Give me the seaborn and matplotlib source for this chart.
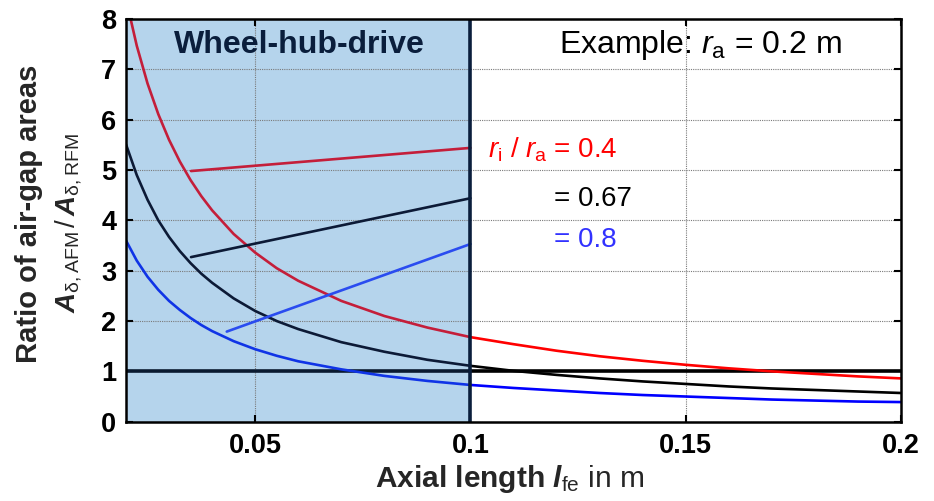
import numpy as np
import pandas as pd
import matplotlib
matplotlib.use("Agg")
import matplotlib.pyplot as plt
import seaborn as sns

# ---- data ----
axial_length = [0.02, 0.0225, 0.025, 0.0275, 0.03, 0.0325, 0.035, 0.0375, 0.04, 0.045,
                0.05, 0.055, 0.06, 0.07, 0.08, 0.09, 0.1, 0.11, 0.12, 0.13, 0.14,
                0.15, 0.16, 0.17, 0.18, 0.19, 0.2]
ratio_04 = [8.4, 7.47, 6.72, 6.11, 5.6, 5.17, 4.8, 4.48, 4.2, 3.73,
            3.36, 3.05, 2.8, 2.4, 2.1, 1.87, 1.68, 1.54, 1.41, 1.3, 1.21,
            1.13, 1.06, 1.0, 0.95, 0.9, 0.86]
ratio_067 = [5.51, 4.9, 4.41, 4.0, 3.67, 3.39, 3.15, 2.94, 2.76, 2.45,
             2.2, 2.0, 1.84, 1.58, 1.39, 1.23, 1.11, 1.01, 0.93, 0.86, 0.8,
             0.75, 0.7, 0.66, 0.63, 0.6, 0.57]
ratio_08 = [3.6, 3.2, 2.88, 2.62, 2.4, 2.22, 2.06, 1.92, 1.8, 1.6,
            1.44, 1.31, 1.2, 1.04, 0.91, 0.81, 0.73, 0.67, 0.62, 0.57, 0.53,
            0.5, 0.47, 0.44, 0.42, 0.4, 0.39]

# pointer lines from the labels to the curves (x0, x1), (y0, y1)
ptr_04_x, ptr_04_y = [0.0351, 0.1], [4.98, 5.44]
ptr_067_x, ptr_067_y = [0.0351, 0.1], [3.27, 4.44]
ptr_08_x, ptr_08_y = [0.0434, 0.1], [1.79, 3.53]

xticks = [0.05, 0.1, 0.15, 0.2]
xtick_labels = ["0.05", "0.1", "0.15", "0.2"]
yticks = [0, 1, 2, 3, 4, 5, 6, 7, 8]
region_x = [0.02, 0.1]
ref_ratio = 1.0

# ---- style ----
sns.set_theme(style="ticks")
plt.rcParams["font.family"] = ["Liberation Sans", "DejaVu Sans"]
plt.rcParams["mathtext.fontset"] = "custom"
plt.rcParams["mathtext.rm"] = "Liberation Sans"
plt.rcParams["mathtext.it"] = "Liberation Sans:italic"
plt.rcParams["mathtext.bf"] = "Liberation Sans:bold"
plt.rcParams["mathtext.bfit"] = "Liberation Sans:italic:bold"

fig = plt.figure(figsize=(9.34, 5.01), dpi=100)
ax = fig.add_axes([0.1349, 0.1583, 0.8298, 0.8037])

ax.axvspan(region_x[0], region_x[1], color="#b5d4ec", zorder=1, lw=0)

df = pd.DataFrame({"x": axial_length, "r04": ratio_04, "r067": ratio_067, "r08": ratio_08})
inside = df[df.x <= region_x[1]]
outside = df[df.x >= region_x[1]]

styles = [("r04", "#c41e3a", "#ff0000"),
          ("r067", "#0c1a36", "#000000"),
          ("r08", "#1034e6", "#0000ff")]
for col, c_in, c_out in styles:
    sns.lineplot(data=inside, x="x", y=col, color=c_in, lw=1.9, ax=ax,
                 estimator=None, sort=False, zorder=4)
    sns.lineplot(data=outside, x="x", y=col, color=c_out, lw=1.9, ax=ax,
                 estimator=None, sort=False, zorder=4)

ax.plot(ptr_04_x, ptr_04_y, color="#c41e3a", lw=1.9, zorder=4)
ax.plot(ptr_067_x, ptr_067_y, color="#0c1a36", lw=1.9, zorder=4)
ax.plot(ptr_08_x, ptr_08_y, color="#2a4cf0", lw=1.9, zorder=4)

# reference line and region border
ax.plot([region_x[0], region_x[1]], [ref_ratio, ref_ratio], color="#0a1a30", lw=2.6, zorder=3)
ax.plot([region_x[1], 0.2], [ref_ratio, ref_ratio], color="#000000", lw=2.6, zorder=3)
ax.axvline(region_x[1], color="#0a1e3c", lw=2.6, zorder=5)

ax.set_xlim(0.02, 0.2)
ax.set_ylim(0, 8)
ax.set_xticks(xticks)
ax.set_xticklabels(xtick_labels)
ax.set_yticks(yticks)
ax.set_xlabel("")
ax.set_ylabel("")

ax.set_axisbelow("line")
ax.grid(True, color="#7a7a7a", ls=(0, (1, 1)), lw=0.8, zorder=2)

for s in ax.spines.values():
    s.set_visible(True)
    s.set_color("black")
    s.set_linewidth(1.8)
    s.set_zorder(6)

ax.tick_params(axis="both", direction="in", length=5, width=1.5,
               top=True, right=True, labelsize=19.5, colors="black")
ax.tick_params(axis="x", pad=8)
ax.tick_params(axis="y", pad=7)
for lab in ax.get_xticklabels() + ax.get_yticklabels():
    lab.set_fontweight("bold")

# texts
ax.text(0.0602, 7.49, "Wheel-hub-drive", fontsize=23, fontweight="bold",
        color="#0a1e3c", ha="center", va="center", zorder=7)
ax.text(0.1205, 7.49, r"Example: $\mathit{r}_{\mathrm{a}}$ = 0.2 m", fontsize=23,
        color="black", ha="left", va="center", zorder=7)
ax.text(0.1041, 5.4, r"$\mathit{r}_{\mathrm{i}}$ / $\mathit{r}_{\mathrm{a}}$ = 0.4",
        fontsize=20, color="#ff0000", ha="left", va="center", zorder=7)
ax.text(0.1194, 4.43, "= 0.67", fontsize=20, color="black", ha="left", va="center", zorder=7)
ax.text(0.1194, 3.61, "= 0.8", fontsize=20, color="#3232ff", ha="left", va="center", zorder=7)

fig.text(0.546, 0.028, r"$\mathbf{Axial\ length}\ \mathbfit{l}_{\mathrm{fe}}\ \mathrm{in\ m}$",
         fontsize=21.5, ha="center", va="baseline")
fig.text(0.031, 0.573, "Ratio of air-gap areas", fontsize=21, fontweight="bold",
         rotation=90, ha="center", va="center")
fig.text(0.074, 0.555, r"$\mathbfit{A}_{\mathrm{\delta,AFM}}\,/\,\mathbfit{A}_{\mathrm{\delta,RFM}}$",
         fontsize=20, rotation=90, ha="center", va="center")

fig.savefig("out.png", dpi=100)
